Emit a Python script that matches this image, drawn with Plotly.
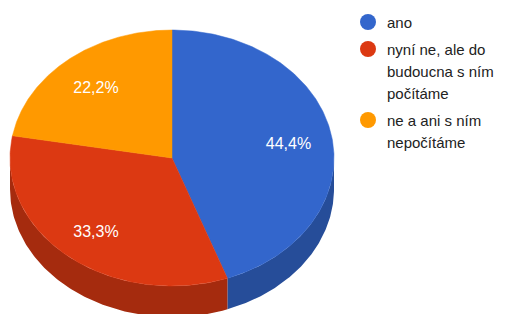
import numpy as np
import plotly.graph_objects as go

categories = ["ano", "nyní ne, ale do budoucna s ním počítáme", "ne a ani s ním nepočítáme"]
legend_lines = [["ano"], ["nyní ne, ale do", "budoucna s ním", "počítáme"], ["ne a ani s ním", "nepočítáme"]]
values = [4, 3, 2]
colors = ["#3366cc", "#dc3912", "#ff9900"]
side_colors = ["#264d99", "#a52b0e", "#bf7300"]

W, H = 513, 314
OFF = 8  # page body margin
cx, cy, a, b, depth = 172, 158, 162, 128, 31

def ell(theta):
    return cx + a * np.sin(theta), cy - b * np.cos(theta)

vals = np.array(values, dtype=float)
fr = vals / vals.sum()
starts = np.concatenate([[0], np.cumsum(fr)[:-1]]) * 2 * np.pi
ends = np.cumsum(fr) * 2 * np.pi

fig = go.Figure()

# sides (front half: pi/2 .. 3pi/2)
for s, e, c in zip(starts, ends, side_colors):
    lo, hi = max(s, np.pi / 2), min(e, 3 * np.pi / 2)
    if hi <= lo:
        continue
    t = np.linspace(lo, hi, 120)
    x, y = ell(t)
    xs = np.concatenate([x, x[::-1]])
    ys = np.concatenate([y, (y + depth)[::-1]])
    fig.add_trace(go.Scatter(x=xs, y=ys, fill="toself", fillcolor=c, mode="lines",
                             line=dict(width=0, color=c), hoverinfo="skip", showlegend=False))

# tops
for s, e, c in zip(starts, ends, colors):
    t = np.linspace(s, e, 200)
    x, y = ell(t)
    xs = np.concatenate([[cx], x, [cx]])
    ys = np.concatenate([[cy], y, [cy]])
    fig.add_trace(go.Scatter(x=xs, y=ys, fill="toself", fillcolor=c, mode="lines",
                             line=dict(width=0.5, color=c), hoverinfo="skip", showlegend=False))

# percentage labels
mids = (starts + ends) / 2
lx, ly = ell(mids)
lx = cx + (lx - cx) * 0.73
ly = cy + (ly - cy) * 0.73 + 3
labels = [f"{v*100:.1f}%".replace(".", ",") for v in fr]
fig.add_trace(go.Scatter(x=lx, y=ly, mode="text", text=labels,
                         textfont=dict(color="white", size=16, family="Liberation Sans, Arial"),
                         hoverinfo="skip", showlegend=False))

# legend
line_h = 22
leg_x, leg_y0, gap = 368, 22, 5
ypos = []
y = leg_y0
for lines in legend_lines:
    ypos.append(y)
    y += line_h * len(lines) + gap
fig.add_trace(go.Scatter(x=[leg_x] * len(values), y=ypos, mode="markers",
                         marker=dict(size=16, color=colors), hoverinfo="skip", showlegend=False))
for yy, lines in zip(ypos, legend_lines):
    for i, ln in enumerate(lines):
        fig.add_annotation(x=386, y=yy + i * line_h, text=ln, showarrow=False,
                           xanchor="left", yanchor="middle", xshift=-1,
                           font=dict(size=15, color="#222222", family="Liberation Sans, Arial"))

fig.update_layout(width=W - OFF, height=H - OFF, margin=dict(l=0, r=0, t=0, b=0),
                  paper_bgcolor="white", plot_bgcolor="white",
                  xaxis=dict(range=[OFF, W], visible=False, fixedrange=True),
                  yaxis=dict(range=[H, OFF], visible=False, fixedrange=True))
fig.write_html("out.html")
